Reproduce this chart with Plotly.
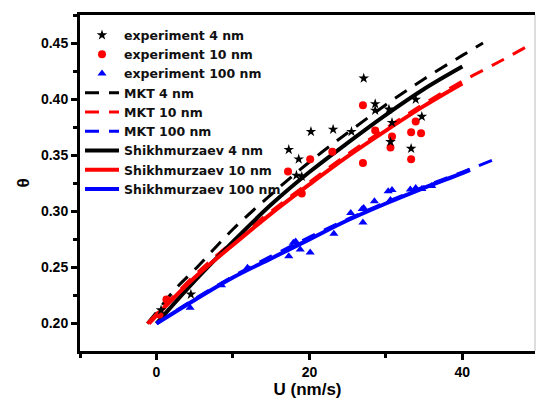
import plotly.graph_objects as go

# ---- data ----
exp4_u = [0.6, 4.5, 17.3, 18.6, 18.3, 19.0, 20.2, 23.1, 25.5, 27.1, 28.6, 28.6, 30.4, 30.8, 30.6, 33.3, 33.9, 34.7]
exp4_t = [0.212, 0.226, 0.355, 0.3465, 0.332, 0.331, 0.371, 0.373, 0.371, 0.4186, 0.3957, 0.390, 0.391, 0.379, 0.362, 0.356, 0.3997, 0.3845]

exp10_u = [0.4, 1.3, 17.2, 19.0, 20.1, 23.0, 27.0, 27.0, 28.6, 30.8, 30.6, 33.3, 33.3, 33.9, 34.6]
exp10_t = [0.208, 0.2214, 0.3355, 0.316, 0.3465, 0.353, 0.3945, 0.343, 0.372, 0.3667, 0.357, 0.3705, 0.3465, 0.380, 0.3697]

exp100_u = [4.4, 8.5, 11.9, 17.3, 17.9, 18.2, 18.8, 20.1, 23.2, 25.4, 26.9, 27.0, 27.1, 28.5, 30.3, 30.6, 30.8, 33.2, 33.9, 34.7, 36.0]
exp100_t = [0.214, 0.234, 0.2496, 0.260, 0.272, 0.273, 0.266, 0.2634, 0.280, 0.2985, 0.302, 0.290, 0.303, 0.309, 0.318, 0.310, 0.319, 0.3195, 0.3207, 0.3198, 0.3225]

mkt4_u = [-1.2, 0, 2.5, 5, 10, 15, 20, 25, 30, 35, 40, 42.7]
mkt4_t = [0.200, 0.210, 0.231, 0.248, 0.284, 0.315, 0.344, 0.370, 0.395, 0.418, 0.439, 0.450]

mkt10_u = [-1.2, 5, 10, 15, 20, 25, 30, 35, 40, 45, 49]
mkt10_t = [0.200, 0.243, 0.273, 0.300, 0.326, 0.351, 0.374, 0.396, 0.416, 0.434, 0.449]

mkt100_u = [0, 5, 10, 15, 20, 25, 30, 35, 40, 44.3]
mkt100_t = [0.200, 0.222, 0.242, 0.260, 0.277, 0.293, 0.308, 0.322, 0.335, 0.3465]

sh4_u = [0, 5, 10, 15, 20, 25, 30, 35, 40]
sh4_t = [0.200, 0.238, 0.273, 0.306, 0.335, 0.361, 0.386, 0.409, 0.429]

sh10_u = [-1.0, 5, 10, 15, 20, 25, 30, 35, 40]
sh10_t = [0.200, 0.241, 0.270, 0.298, 0.324, 0.349, 0.372, 0.394, 0.414]

sh100_u = [0, 5, 10, 15, 20, 25, 30, 35, 40, 41]
sh100_t = [0.200, 0.221, 0.241, 0.258, 0.275, 0.292, 0.307, 0.321, 0.334, 0.337]

BLACK, RED, BLUE = "#000000", "#ff0000", "#0000ff"
FONT = "Liberation Sans, Arial, sans-serif"
LFONT = "DejaVu Sans, Liberation Sans, sans-serif"

fig = go.Figure()

dash = "14px,10px"
for name, u, t, col, rank in [
    ("MKT 4 nm", mkt4_u, mkt4_t, BLACK, 4),
    ("MKT 10 nm", mkt10_u, mkt10_t, RED, 5),
    ("MKT 100 nm", mkt100_u, mkt100_t, BLUE, 6),
]:
    fig.add_trace(go.Scatter(x=u, y=t, mode="lines", name=name, legendrank=rank,
                             line=dict(color=col, width=3, dash=dash, shape="spline")))

for name, u, t, col, rank in [
    ("Shikhmurzaev 4 nm", sh4_u, sh4_t, BLACK, 7),
    ("Shikhmurzaev 10 nm", sh10_u, sh10_t, RED, 8),
    ("Shikhmurzaev 100 nm", sh100_u, sh100_t, BLUE, 9),
]:
    fig.add_trace(go.Scatter(x=u, y=t, mode="lines", name=name, legendrank=rank,
                             line=dict(color=col, width=4, shape="spline")))

fig.add_trace(go.Scatter(x=exp100_u, y=exp100_t, mode="markers", name="experiment 100 nm", legendrank=3,
                         marker=dict(symbol="triangle-up", size=8, color=BLUE)))
fig.add_trace(go.Scatter(x=exp10_u, y=exp10_t, mode="markers", name="experiment 10 nm", legendrank=2,
                         marker=dict(symbol="circle", size=8, color=RED)))
fig.add_trace(go.Scatter(x=exp4_u, y=exp4_t, mode="markers", name="experiment 4 nm", legendrank=1,
                         marker=dict(symbol="star", size=8, color=BLACK)))

fig.update_layout(
    width=536, height=402,
    margin=dict(l=80, r=1, t=15, b=51),
    paper_bgcolor="white", plot_bgcolor="white",
    font=dict(family=FONT, color="black"),
    showlegend=True,
    legend=dict(x=0.0, y=0.984, xanchor="left", yanchor="top",
                bgcolor="rgba(0,0,0,0)", borderwidth=0,
                font=dict(family=LFONT, size=12.5, weight="bold", color="#111"),
                tracegroupgap=0, itemwidth=34),
    xaxis=dict(range=[-10, 49.5], showgrid=False, zeroline=False,
               showline=True, linecolor="black", linewidth=3, mirror=True,
               ticks="outside", ticklen=6, tickwidth=3, tickcolor="black",
               tickmode="linear", tick0=0, dtick=20,
               minor=dict(ticks="outside", ticklen=4, tickwidth=3, tickcolor="black", dtick=10, tick0=0),
               tickfont=dict(family=FONT, size=14, weight="bold"),
               title=dict(text="U (nm/s)", font=dict(family=FONT, size=17, weight="bold"), standoff=2)),
    yaxis=dict(range=[0.1755, 0.475], showgrid=False, zeroline=False,
               showline=True, linecolor="black", linewidth=3, mirror=False,
               ticks="outside", ticklen=6, tickwidth=3, tickcolor="black",
               tickmode="linear", tick0=0.2, dtick=0.05, tickformat=".2f",
               minor=dict(ticks="outside", ticklen=4, tickwidth=3, tickcolor="black", dtick=0.025, tick0=0.2),
               tickfont=dict(family=FONT, size=14, weight="bold"),
               title=dict(text="θ", font=dict(family=FONT, size=17, weight="bold"), standoff=8)),
    shapes=[dict(type="line", xref="paper", yref="paper", x0=1, x1=1, y0=0, y1=1,
                 line=dict(color="#bbbbbb", width=1))],
)

fig.write_html("out.html")
